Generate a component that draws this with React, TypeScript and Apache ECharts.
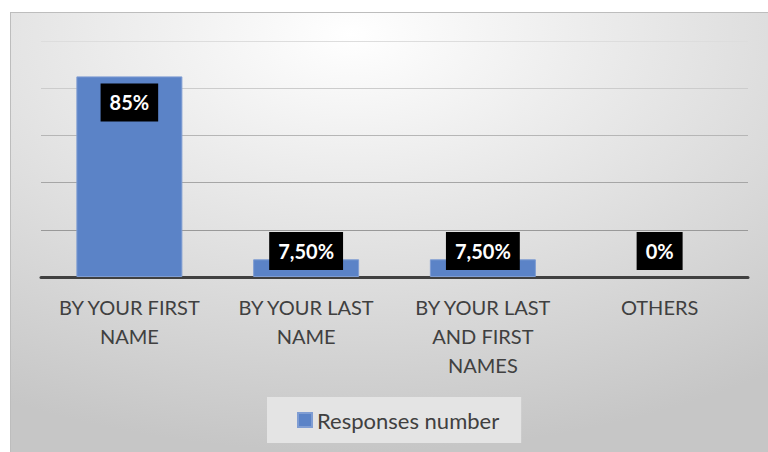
import React, { useEffect, useRef } from "react";
import * as echarts from "echarts";

const categories = [
  "BY YOUR FIRST\nNAME",
  "BY YOUR LAST\nNAME",
  "BY YOUR LAST\nAND FIRST\nNAMES",
  "OTHERS",
];
const responses = [85, 7.5, 7.5, 0];
const valueLabels = ["85%", "7,50%", "7,50%", "0%"];
const seriesName = "Responses number";
const yTicks = [0, 20, 40, 60, 80, 100];

const FONT = "Lato, 'Noto Sans', sans-serif";

export default function App() {
  const ref = useRef<HTMLDivElement>(null);
  useEffect(() => {
    if (!ref.current) return;
    const chart = echarts.init(ref.current, null, { renderer: "svg" });
    const labelBase = {
      show: true,
      color: "#ffffff",
      fontFamily: FONT,
      fontWeight: "bold" as const,
      fontSize: 20,
      lineHeight: 20,
      backgroundColor: "#000000",
      padding: [9, 9, 9, 9],
      formatter: (p: any) => valueLabels[p.dataIndex],
    };
    chart.setOption({
      animation: false,
      backgroundColor: {
        type: "radial",
        x: 0.45,
        y: 0.05,
        r: 0.95,
        colorStops: [
          { offset: 0, color: "#ffffff" },
          { offset: 1, color: "#c6c6c6" },
        ],
      },
      graphic: [
        { type: "line", shape: { x1: 0, y1: 0.5, x2: 758, y2: 0.5 }, style: { stroke: "#bdbdbd", lineWidth: 1 } },
        { type: "line", shape: { x1: 0.5, y1: 0, x2: 0.5, y2: 440 }, style: { stroke: "#bdbdbd", lineWidth: 1 } },
      ],
      grid: { left: 31, right: 20, top: 29, bottom: 175, containLabel: false },
      legend: {
        data: [seriesName],
        left: 257,
        top: 385,
        backgroundColor: "#e4e4e4",
        padding: [12, 22, 12, 30],
        itemWidth: 14,
        itemHeight: 14,
        icon: "rect",
        textStyle: { fontFamily: FONT, fontSize: 22, color: "#404040", lineHeight: 22 },
      },
      xAxis: {
        type: "category",
        data: categories,
        axisLine: { show: true, lineStyle: { color: "#404040", width: 3 } },
        axisTick: { show: false },
        axisLabel: {
          interval: 0,
          margin: 15,
          fontFamily: FONT,
          fontSize: 20,
          lineHeight: 29,
          color: "#404040",
          verticalAlign: "top",
        },
      },
      yAxis: {
        type: "value",
        min: yTicks[0],
        max: yTicks[yTicks.length - 1],
        interval: 20,
        axisLabel: { show: false },
        axisLine: { show: false },
        axisTick: { show: false },
        splitLine: {
          show: true,
          lineStyle: {
            color: ["#888888", "#999999", "#a6a6a6", "#b6b6b6", "#cccccc", "#dddddd"],
            width: 1,
          },
        },
      },
      series: [
        {
          name: seriesName,
          type: "bar",
          barWidth: 106,
          itemStyle: { color: "#5b83c7", borderColor: "#7f9dd3", borderWidth: 1 },
          data: responses.map((v, i) => ({
            value: v,
            itemStyle: v === 0 ? { borderWidth: 0 } : undefined,
            label:
              i === 0
                ? { ...labelBase, position: "insideTop", distance: 7 }
                : { ...labelBase, position: "insideBottom", distance: 7 },
          })),
        },
      ],
    });
    return () => chart.dispose();
  }, []);
  return (
    <div
      ref={ref}
      style={{ position: "absolute", left: 10, top: 12, width: 758, height: 440 }}
    />
  );
}
